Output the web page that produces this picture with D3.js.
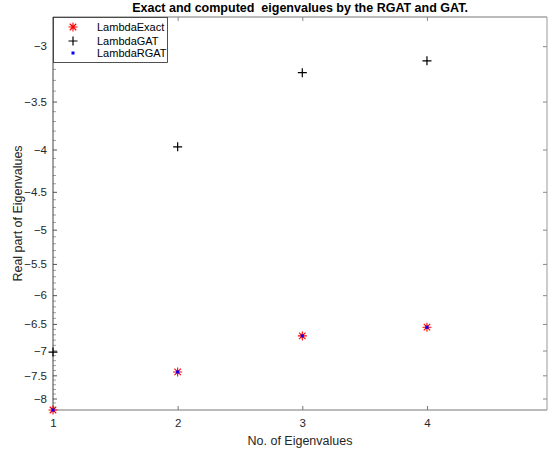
<!DOCTYPE html>
<html><head><meta charset="utf-8">
<script src="https://cdn.jsdelivr.net/npm/d3@7"></script>
<style>body{margin:0;background:#fff}svg{display:block}text{font-family:"Liberation Sans",Arial,Helvetica,sans-serif}</style>
</head><body>
<svg id="c" width="548" height="451"></svg>
<script>
const xIdx = [1, 2, 3, 4];
const lambdaExact = [-8.26, -7.43, -6.72, -6.56];
const lambdaGAT = [-7.03, -3.97, -3.23, -3.125];
const lambdaRGAT = [-8.26, -7.43, -6.72, -6.56];
const xTicks = [1, 2, 3, 4];
const yTicks = [-3, -3.5, -4, -4.5, -5, -5.5, -6, -6.5, -7, -7.5, -8];
const yMinor = d3.range(-28, -83, -1).map(v => v / 10);
const legendLabels = ["LambdaExact", "LambdaGAT", "LambdaRGAT"];

const svg = d3.select("#c");
const L = 53, R = 547, T = 17, B = 410;
const x = d3.scaleLinear().domain([1, 4.963]).range([L, R]);
const y = d3.scaleLog().domain([-8.26, -2.766]).range([B, T]);
const axc = "#262626";

// minor ticks on left
svg.append("g").selectAll("line").data(yMinor.filter(v => !yTicks.some(t => Math.abs(t - v) < 1e-9)))
  .join("line").attr("x1", L).attr("x2", L + 3)
  .attr("y1", d => y(d)).attr("y2", d => y(d)).attr("stroke", "#777").attr("stroke-width", 0.7);

// left axis
const yAxisL = d3.axisLeft(y).tickValues(yTicks).tickSize(-4).tickFormat(d3.format(""));
const gl = svg.append("g").attr("transform", `translate(${L},0)`).call(yAxisL);
gl.select(".domain").remove();
gl.selectAll(".tick line").attr("stroke", "#555");
gl.selectAll(".tick text").attr("x", -6).attr("font-size", 11.5).attr("fill", axc)
  .attr("font-family", '"Liberation Sans",Arial,sans-serif');

// right axis ticks
const yAxisR = d3.axisRight(y).tickValues(yTicks).tickSize(-4).tickFormat("");
const gr = svg.append("g").attr("transform", `translate(${R},0)`).call(yAxisR);
gr.select(".domain").remove();
gr.selectAll(".tick line").attr("stroke", "#888");

// bottom axis
const xAxisB = d3.axisBottom(x).tickValues(xTicks).tickSize(-4).tickFormat(d3.format("d"));
const gb = svg.append("g").attr("transform", `translate(0,${B})`).call(xAxisB);
gb.select(".domain").remove();
gb.selectAll(".tick line").attr("stroke", "#777");
gb.selectAll(".tick text").attr("y", 9).attr("font-size", 11.5).attr("fill", axc)
  .attr("font-family", '"Liberation Sans",Arial,sans-serif');

// top axis ticks
const xAxisT = d3.axisTop(x).tickValues(xTicks.slice(1)).tickSize(-4).tickFormat("");
const gt = svg.append("g").attr("transform", `translate(0,${T})`).call(xAxisT);
gt.select(".domain").remove();
gt.selectAll(".tick line").attr("stroke", "#888");

// box
svg.append("line").attr("x1", L).attr("x2", R).attr("y1", T).attr("y2", T).attr("stroke", "#777").attr("stroke-width", 1);
svg.append("line").attr("x1", L).attr("x2", R).attr("y1", B).attr("y2", B).attr("stroke", "#777").attr("stroke-width", 1);
svg.append("line").attr("x1", R).attr("x2", R).attr("y1", T).attr("y2", B).attr("stroke", "#999").attr("stroke-width", 1);
svg.append("line").attr("x1", L).attr("x2", L).attr("y1", T).attr("y2", B).attr("stroke", "#444").attr("stroke-width", 1);

// markers
function star(g, cx, cy, r, color) {
  const a = r * 0.72;
  const p = `M${cx - r},${cy}L${cx + r},${cy}M${cx},${cy - r}L${cx},${cy + r}M${cx - a},${cy - a}L${cx + a},${cy + a}M${cx - a},${cy + a}L${cx + a},${cy - a}`;
  g.append("path").attr("d", p).attr("stroke", color).attr("stroke-width", 1.1).attr("fill", "none");
}
function plus(g, cx, cy, r, color) {
  g.append("path").attr("d", `M${cx - r},${cy}L${cx + r},${cy}M${cx},${cy - r}L${cx},${cy + r}`)
    .attr("stroke", color).attr("stroke-width", 1.2).attr("fill", "none");
}
function dot(g, cx, cy, color) {
  g.append("rect").attr("x", cx - 1.5).attr("y", cy - 1.5).attr("width", 3).attr("height", 3).attr("fill", color);
}
const gm = svg.append("g");
xIdx.forEach((d, i) => star(gm, x(d), y(lambdaExact[i]), 4.5, "#ff0000"));
xIdx.forEach((d, i) => plus(gm, x(d), y(lambdaGAT[i]), 4.5, "#000"));
xIdx.forEach((d, i) => dot(gm, x(d), y(lambdaRGAT[i]), "#0000ff"));

// legend
const lg = svg.append("g");
lg.append("rect").attr("x", L + 0.5).attr("y", T + 0.5).attr("width", 114).attr("height", 45)
  .attr("fill", "#fff").attr("stroke", "#262626").attr("stroke-width", 0.8);
const ly = [27, 41, 53];
star(lg, 73, ly[0], 4.5, "#ff0000");
plus(lg, 73, ly[1], 4.5, "#000");
dot(lg, 73, ly[2], "#0000ff");
lg.selectAll("text").data(legendLabels).join("text")
  .attr("x", 97).attr("y", (d, i) => ly[i]).attr("dy", "0.35em")
  .attr("font-size", 11).attr("fill", "#000").text(d => d);

// title and labels
svg.append("text").attr("x", (L + R) / 2).attr("y", 8).attr("dy", "0.35em").attr("text-anchor", "middle")
  .attr("font-size", 12.5).attr("font-weight", "bold").attr("fill", "#000")
  .attr("xml:space", "preserve").style("white-space", "pre")
  .text("Exact and computed  eigenvalues by the RGAT and GAT.");
svg.append("text").attr("x", (L + R) / 2).attr("y", 441).attr("dy", "0.35em").attr("text-anchor", "middle")
  .attr("font-size", 12.5).attr("fill", axc).text("No. of Eigenvalues");
svg.append("text").attr("transform", `translate(18,${(T + B) / 2}) rotate(-90)`).attr("dy", "0.35em")
  .attr("text-anchor", "middle").attr("font-size", 12.5).attr("fill", axc).text("Real part of Eigenvalues");
</script>
</body></html>
